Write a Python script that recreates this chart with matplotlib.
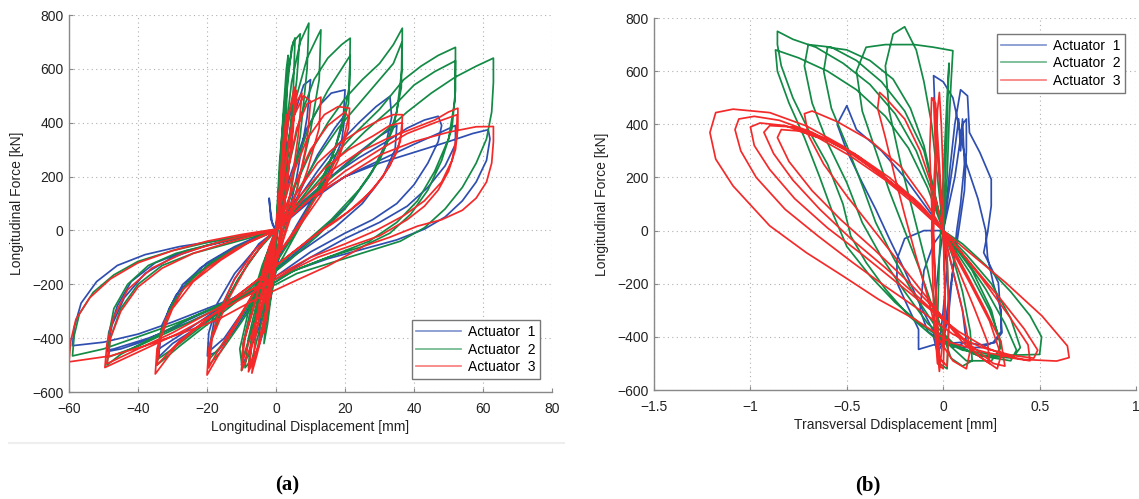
import numpy as np
import matplotlib.pyplot as plt
from matplotlib.lines import Line2D

# ---- data (displacement, force) ----
# (a) longitudinal displacement [mm] vs longitudinal force [kN]
long_act1 = [
    (0, 0), (-1.5, 40), (-2, 120), (-1.8, 90), (-1, 20), (0, 0),
    (1, 120), (2, 260), (3, 380), (2.5, 250), (0.5, 0), (-1, -150), (-2.5, -300), (-3, -350), (-2, -200), (0, -20),
    (1.5, 150), (3.5, 400), (5, 480), (4.5, 320), (2, 50), (-0.5, -180), (-3, -350), (-5, -430), (-4.5, -330), (-2, -120), (0, 0),
    (2, 180), (5, 420), (8, 540), (10, 560), (9, 420), (6, 200), (3, 20), (0, -150), (-4, -330), (-8, -460), (-10, -500),
    (-9.5, -420), (-7, -280), (-3, -100), (0, 10),
    (4, 200), (9, 380), (13, 470), (16, 510), (20, 522), (19.5, 420), (17, 300), (12, 150), (6, 20), (0, -120), (-6, -250),
    (-12, -370), (-17, -450), (-19.9, -466), (-19.5, -380), (-17, -270), (-12, -160), (-6, -70), (0, 0),
    (6, 120), (12, 280), (17, 380), (20, 430), (19, 330), (14, 180), (8, 50), (0, -110), (-8, -270), (-15, -400),
    (-19.5, -450), (-18, -340), (-12, -180), (-5, -50), (0, 0),
    (6, 110), (12, 220), (18, 320), (24, 400), (29, 460), (33, 498), (33.5, 420), (32, 330), (28, 220), (22, 110), (14, 10),
    (6, -80), (0, -150), (-8, -230), (-16, -300), (-24, -370), (-30, -420), (-34, -470), (-33.5, -390), (-31, -290),
    (-27, -200), (-20, -120), (-12, -60), (-5, -20), (0, 0),
    (8, 100), (16, 200), (24, 290), (30, 350), (35, 390), (34.5, 300), (31, 200), (25, 100), (17, 10), (8, -70), (0, -140),
    (-10, -230), (-20, -320), (-28, -390), (-34, -440), (-33, -350), (-29, -240), (-22, -140), (-13, -70), (-5, -25), (0, 0),
    (8, 110), (16, 200), (24, 270), (32, 330), (38, 380), (43, 410), (47, 424), (48, 390), (47, 330), (44, 250), (40, 170),
    (35, 100), (28, 40), (20, -10), (10, -80), (0, -170), (-10, -240), (-20, -300), (-30, -360), (-38, -410), (-45, -440),
    (-49, -450), (-48.5, -380), (-46, -280), (-42, -190), (-35, -120), (-26, -75), (-16, -45), (-6, -15), (0, 0),
    (10, 110), (20, 200), (30, 260), (40, 320), (47, 360), (52, 390), (52, 320), (49, 240), (44, 160), (38, 90), (30, 30),
    (20, -30), (10, -100), (0, -180), (-12, -260), (-25, -340), (-37, -400), (-47, -440), (-49, -445), (-47.5, -350),
    (-44, -250), (-38, -160), (-30, -100), (-20, -55), (-10, -25), (0, 0),
    (10, 120), (20, 200), (30, 250), (40, 290), (50, 330), (57, 360), (61.5, 374), (62, 340), (61, 260), (58, 180),
    (54, 110), (49, 50), (43, 5), (35, -35), (25, -70), (15, -105), (5, -150), (0, -190), (-10, -240), (-20, -290),
    (-30, -340), (-40, -385), (-50, -415), (-59, -428), (-58.5, -360), (-56.5, -270), (-52, -190), (-46, -130),
    (-38, -90), (-28, -60), (-18, -40), (-8, -18), (0, 0),
]

long_act2 = [
    (0, 0), (1, 200), (2, 420), (3, 600), (3.5, 650), (3, 450), (1, 100), (-1, -200), (-2.5, -350), (-3.5, -420),
    (-2.5, -250), (0, 0),
    (1.5, 250), (3, 500), (4.5, 680), (5.5, 715), (5, 520), (3, 200), (0, -150), (-3, -340), (-6, -470), (-8, -500),
    (-7, -380), (-4, -200), (-1, -40), (0, 0),
    (1, 250), (3, 550), (5, 700), (7, 730), (6, 560), (3, 250), (0, -50), (-4, -330), (-7, -480), (-9, -510),
    (-8, -400), (-4, -180), (0, 0),
    (2, 280), (4.5, 550), (7, 700), (9.5, 770), (9, 600), (7, 350), (4, 120), (0, -120), (-4, -300), (-8, -460),
    (-10, -520), (-9.5, -420), (-7, -280), (-3, -100), (0, 0),
    (3, 300), (6, 500), (9, 640), (12, 720), (13, 745), (12.5, 560), (10, 370), (6, 150), (2, 0), (-3, -200), (-7, -370),
    (-10, -490), (-10.5, -440), (-8, -300), (-4, -130), (0, 0),
    (3, 200), (7, 420), (11, 560), (15, 640), (19, 690), (21.5, 714), (21.3, 540), (19, 380), (14, 190), (8, 40),
    (2, -100), (-4, -220), (-10, -340), (-16, -450), (-19.5, -500), (-19, -420), (-16, -300), (-11, -180), (-5, -70), (0, 0),
    (5, 220), (10, 400), (15, 520), (19, 600), (21.5, 650), (21, 470), (17, 300), (11, 120), (4, -40), (-3, -180),
    (-10, -320), (-16, -430), (-19.5, -480), (-18.5, -380), (-14, -250), (-8, -120), (-2, -20), (0, 0),
    (5, 150), (10, 290), (15, 400), (20, 490), (25, 560), (30, 620), (34, 690), (36.6, 751), (36.5, 600), (35, 440),
    (32, 320), (27, 200), (20, 80), (12, -20), (4, -110), (-4, -190), (-12, -270), (-20, -350), (-28, -430),
    (-34.5, -500), (-34, -420), (-31, -300), (-26, -200), (-19, -120), (-11, -60), (-4, -20), (0, 0),
    (6, 140), (12, 270), (18, 380), (24, 470), (30, 560), (34, 620), (36.5, 700), (36.3, 530), (34, 380), (30, 260),
    (24, 150), (16, 40), (8, -50), (0, -140), (-8, -220), (-16, -300), (-24, -380), (-30, -440), (-34.5, -480),
    (-33.5, -380), (-30, -270), (-24, -170), (-16, -100), (-8, -45), (0, 0),
    (8, 130), (15, 250), (22, 350), (30, 450), (37, 560), (42, 610), (47, 650), (52, 680), (52, 520), (51, 380),
    (48, 260), (44, 150), (39, 60), (33, -10), (25, -60), (15, -100), (5, -150), (0, -190), (-10, -250), (-20, -310),
    (-30, -370), (-40, -430), (-48.5, -470), (-48.5, -390), (-47, -290), (-43, -200), (-37, -130), (-29, -85),
    (-20, -55), (-10, -25), (0, 0),
    (10, 150), (18, 270), (26, 370), (34, 460), (40, 540), (46, 590), (52, 630), (51.8, 480), (50, 340), (46, 220),
    (41, 110), (35, 30), (27, -40), (17, -90), (7, -140), (0, -180), (-12, -250), (-24, -320), (-36, -400), (-45, -460),
    (-49, -500), (-48, -400), (-45, -290), (-40, -200), (-33, -130), (-24, -85), (-14, -50), (-4, -15), (0, 0),
    (10, 130), (20, 240), (30, 350), (38, 440), (45, 510), (52, 570), (58, 610), (63, 640), (63, 550), (62.5, 440),
    (61, 340), (58, 250), (54, 160), (49, 80), (43, 10), (36, -40), (26, -80), (16, -120), (6, -160), (0, -200),
    (-10, -250), (-20, -300), (-30, -350), (-40, -395), (-50, -440), (-59, -466), (-58.5, -390), (-57, -310),
    (-53, -230), (-47, -165), (-40, -115), (-30, -75), (-20, -45), (-10, -20), (0, 5),
]

long_act3 = [
    (0, 0), (1, 150), (2, 320), (3, 430), (2.5, 300), (0.5, 50), (-1, -150), (-2.5, -300), (-3.5, -380), (-2.5, -230), (0, 0),
    (1.5, 200), (3.5, 420), (5.3, 532), (5, 380), (2.5, 100), (0, -120), (-3, -330), (-5.5, -460), (-7, -530),
    (-6, -400), (-3, -200), (0, 0),
    (2, 250), (4, 450), (6, 520), (5, 400), (3, 150), (0, -100), (-3, -300), (-6, -470), (-8, -525), (-7, -420),
    (-4, -220), (-1, -40), (0, 0),
    (3, 260), (6, 480), (7.5, 510), (6.5, 360), (4, 130), (1, -60), (-2, -250), (-5, -430), (-8, -510), (-6.5, -380),
    (-3, -160), (0, 0),
    (2, 200), (5, 420), (8, 500), (10, 480), (9, 330), (6, 150), (2, -30), (-2, -200), (-6, -380), (-9, -490),
    (-10, -520), (-9.5, -420), (-6, -260), (-2, -60), (0, 0),
    (3, 200), (6, 380), (9, 470), (13, 495), (12.5, 380), (9, 220), (4, 40), (0, -120), (-4, -270), (-8, -420),
    (-10, -500), (-9, -400), (-5, -220), (0, 0),
    (4, 180), (9, 340), (14, 430), (18, 460), (21.3, 454), (21, 380), (18, 260), (13, 130), (7, 20), (0, -100),
    (-6, -220), (-12, -360), (-17, -470), (-20, -537), (-19.5, -440), (-17, -320), (-12, -180), (-6, -70), (0, 0),
    (5, 160), (10, 300), (15, 390), (20, 440), (21, 420), (19, 310), (14, 170), (8, 50), (1, -80), (-6, -220),
    (-12, -350), (-17, -450), (-19.5, -510), (-18.5, -400), (-14, -260), (-8, -120), (-2, -20), (0, 0),
    (6, 140), (12, 250), (18, 320), (24, 370), (30, 410), (34, 430), (36.6, 430), (36.5, 370), (35, 290), (31, 200),
    (25, 110), (18, 40), (10, -30), (2, -110), (-6, -190), (-14, -270), (-22, -350), (-29, -430), (-35, -533),
    (-34.5, -440), (-32, -330), (-27, -220), (-20, -140), (-12, -70), (-5, -25), (0, 0),
    (7, 130), (14, 230), (21, 300), (28, 350), (33, 390), (36.5, 400), (36, 330), (33, 240), (28, 150), (21, 70),
    (13, 0), (5, -80), (-3, -160), (-12, -250), (-21, -340), (-28, -410), (-34.5, -500), (-33.5, -400), (-30, -290),
    (-24, -190), (-16, -110), (-8, -45), (0, 0),
    (8, 120), (16, 220), (24, 290), (32, 340), (40, 380), (46, 410), (50, 440), (52.7, 454), (52.7, 380), (52, 300),
    (50, 220), (47, 150), (43, 90), (38, 40), (30, -20), (21, -60), (12, -100), (4, -150), (0, -180), (-8, -240),
    (-18, -310), (-28, -380), (-38, -440), (-49.6, -509), (-49, -420), (-47, -320), (-43, -220), (-36, -140),
    (-27, -85), (-17, -45), (-7, -12), (0, 0),
    (10, 120), (20, 220), (30, 300), (38, 360), (46, 400), (52.5, 430), (52.3, 350), (51, 260), (48, 180), (43, 110),
    (37, 55), (29, 0), (20, -50), (10, -100), (0, -170), (-10, -240), (-20, -310), (-30, -380), (-40, -440),
    (-49, -495), (-48, -400), (-45, -300), (-40, -210), (-33, -140), (-24, -85), (-14, -45), (-5, -12), (0, 0),
    (10, 120), (20, 200), (30, 280), (40, 330), (50, 365), (58, 385), (63, 386), (63, 330), (62.5, 250), (61, 180),
    (58, 120), (54, 75), (48, 40), (41, 16), (33, -25), (25.5, -58), (15, -132), (4.4, -194), (-6, -256),
    (-16.7, -330), (-27, -380), (-37.8, -428), (-48, -466), (-60, -488), (-59.5, -410), (-58, -330), (-54, -250),
    (-48, -180), (-40, -120), (-30, -75), (-20, -40), (-10, -15), (0, 5),
]

# (b) transversal displacement [mm] vs longitudinal force [kN]
trans_act1 = [
    (0, 0), (0.02, 100), (0.05, 250), (0.08, 420), (0.09, 300), (0.1, 420), (0.11, 250), (0.09, 100), (0.07, 0),
    (0.05, -150), (0.03, -300), (0.0, -420), (-0.03, -460), (-0.05, -400), (-0.04, -250), (-0.02, -100), (0, 0),
    (0.06, 200), (0.1, 400), (0.12, 420), (0.12, 300), (0.11, 150), (0.08, 0), (0.04, -200), (0.0, -400),
    (-0.02, -430), (0, -300), (0.02, -150), (0, 0),
    (-0.02, 200), (-0.04, 400), (-0.05, 583), (0.0, 560), (0.05, 500), (0.08, 400), (0.12, 250), (0.18, 120),
    (0.22, 0), (0.23, -100), (0.26, -200), (0.3, -300), (0.3, -380), (0.26, -420), (0.2, -440), (0.1, -440),
    (0.0, -420), (-0.08, -380), (-0.12, -300), (-0.1, -150), (-0.05, -50), (0, 0),
    (0.03, 200), (0.06, 400), (0.09, 530), (0.126, 507), (0.136, 369), (0.19, 294), (0.249, 193), (0.249, 93),
    (0.23, -8), (0.21, -83), (0.286, -196), (0.305, -384), (0.267, -422), (0.2, -430), (0.1, -420), (-0.05, -430),
    (-0.128, -447), (-0.128, -372), (-0.185, -284), (-0.24, -196), (-0.24, -108), (-0.2, -30), (-0.1, 0), (0, 0),
    (-0.1, 100), (-0.2, 200), (-0.32, 300), (-0.45, 380), (-0.5, 470), (-0.55, 400), (-0.5, 300), (-0.42, 180),
    (-0.35, 80), (-0.28, -30), (-0.2, -150), (-0.12, -280), (-0.05, -380), (0.05, -440), (0.12, -420), (0.1, -300),
    (0.05, -150), (0, 0),
]

trans_act2 = [
    (0, 0), (0.01, 200), (0.02, 400), (0.03, 630), (0.02, 500), (0.0, 200), (-0.02, -100), (-0.03, -350),
    (-0.02, -500), (0.02, -520), (0.03, -300), (0.02, -100), (0, 0),
    (-0.03, 200), (-0.06, 400), (-0.1, 560), (-0.14, 680), (-0.2, 767), (-0.26, 740), (-0.3, 620), (-0.28, 450),
    (-0.22, 250), (-0.15, 50), (-0.08, -150), (-0.02, -350), (0.04, -480), (0.1, -510), (0.15, -490), (0.14, -380),
    (0.1, -230), (0.05, -100), (0, 0),
    (0.02, 200), (0.03, 400), (0.04, 550), (0.05, 677), (-0.05, 690), (-0.15, 700), (-0.3, 700), (-0.4, 690),
    (-0.45, 600), (-0.42, 450), (-0.35, 300), (-0.28, 150), (-0.2, 0), (-0.12, -150), (-0.05, -300), (0.03, -430),
    (0.12, -490), (0.25, -490), (0.3, -440), (0.25, -300), (0.15, -150), (0.05, -50), (0, 0),
    (-0.05, 160), (-0.1, 320), (-0.17, 460), (-0.26, 570), (-0.38, 640), (-0.5, 680), (-0.6, 690), (-0.62, 600),
    (-0.58, 460), (-0.5, 320), (-0.42, 170), (-0.35, 30), (-0.26, -100), (-0.16, -230), (-0.05, -350), (0.06, -430),
    (0.18, -470), (0.28, -470), (0.3, -420), (0.24, -300), (0.14, -160), (0.05, -60), (0, 0),
    (-0.05, 150), (-0.1, 300), (-0.2, 450), (-0.32, 560), (-0.45, 640), (-0.58, 690), (-0.7, 700), (-0.72, 620),
    (-0.68, 480), (-0.6, 330), (-0.5, 180), (-0.42, 30), (-0.32, -100), (-0.2, -230), (-0.08, -350), (0.05, -430),
    (0.2, -470), (0.36, -480), (0.4, -440), (0.35, -330), (0.25, -200), (0.12, -90), (0, 0),
    (-0.08, 160), (-0.18, 310), (-0.3, 430), (-0.45, 530), (-0.6, 600), (-0.75, 650), (-0.87, 680), (-0.86, 600),
    (-0.8, 480), (-0.72, 350), (-0.64, 200), (-0.57, 60), (-0.5, -60), (-0.38, -170), (-0.25, -270), (-0.12, -350),
    (0.02, -420), (0.18, -470), (0.35, -490), (0.38, -450), (0.32, -350), (0.22, -220), (0.1, -90), (0, 0),
    (-0.06, 150), (-0.14, 300), (-0.25, 440), (-0.38, 550), (-0.52, 630), (-0.66, 690), (-0.78, 720), (-0.86, 750),
    (-0.86, 700), (-0.84, 620), (-0.78, 500), (-0.7, 380), (-0.6, 250), (-0.52, 100), (-0.48, -20), (-0.4, -120),
    (-0.3, -220), (-0.18, -320), (-0.05, -400), (0.1, -450), (0.3, -470), (0.5, -466), (0.51, -400), (0.45, -320),
    (0.35, -230), (0.22, -130), (0.1, -50), (0, 0),
]

trans_act3 = [
    (0, 0), (0.0, 200), (-0.01, 400), (-0.02, 520), (-0.03, 450), (-0.04, 200), (-0.05, 0), (-0.04, -250),
    (-0.03, -450), (-0.02, -530), (0.0, -400), (0.01, -200), (0, 0),
    (-0.02, 250), (-0.04, 480), (-0.06, 500), (-0.07, 300), (-0.06, 100), (-0.04, -200), (-0.02, -480),
    (0.02, -510), (0.03, -350), (0.02, -100), (0, 0),
    (-0.03, 300), (-0.05, 500), (-0.04, 300), (-0.06, 0), (-0.05, -300), (-0.03, -500), (0.0, -520),
    (0.01, -300), (0, 0),
    (-0.05, 150), (-0.12, 300), (-0.2, 420), (-0.3, 500), (-0.33, 520), (-0.34, 460), (-0.3, 350), (-0.25, 200),
    (-0.2, 60), (-0.14, -100), (-0.08, -250), (-0.03, -400), (0.05, -490), (0.12, -520), (0.14, -450), (0.1, -300),
    (0.05, -150), (0, 0),
    (-0.1, 120), (-0.22, 240), (-0.38, 340), (-0.55, 410), (-0.68, 450), (-0.72, 440), (-0.7, 360), (-0.62, 250),
    (-0.5, 130), (-0.38, 20), (-0.25, -100), (-0.12, -220), (0, -330), (0.1, -420), (0.2, -480), (0.24, -500),
    (0.23, -420), (0.16, -290), (0.08, -150), (0, 0),
    (-0.12, 100), (-0.28, 200), (-0.44, 280), (-0.6, 340), (-0.75, 375), (-0.84, 380), (-0.86, 350), (-0.8, 260),
    (-0.68, 150), (-0.53, 40), (-0.36, -70), (-0.2, -180), (-0.05, -290), (0.08, -390), (0.18, -470), (0.28, -520),
    (0.3, -470), (0.24, -340), (0.14, -200), (0.05, -80), (0, 0),
    (-0.15, 110), (-0.3, 200), (-0.46, 290), (-0.62, 350), (-0.78, 390), (-0.9, 395), (-0.93, 370), (-0.88, 290),
    (-0.78, 190), (-0.64, 80), (-0.48, -30), (-0.3, -140), (-0.13, -250), (0.02, -350), (0.14, -430), (0.26, -500),
    (0.32, -510), (0.3, -420), (0.22, -300), (0.12, -160), (0, 0),
    (-0.15, 100), (-0.3, 190), (-0.48, 280), (-0.65, 350), (-0.82, 395), (-0.95, 405), (-1.0, 390), (-0.98, 320),
    (-0.9, 230), (-0.77, 120), (-0.6, 10), (-0.42, -90), (-0.25, -190), (-0.08, -290), (0.08, -380), (0.22, -440),
    (0.36, -480), (0.45, -490), (0.44, -430), (0.34, -320), (0.2, -180), (0.08, -70), (0, 0),
    (-0.15, 110), (-0.32, 210), (-0.5, 300), (-0.68, 370), (-0.85, 415), (-0.98, 430), (-1.06, 420), (-1.08, 380),
    (-1.05, 300), (-0.97, 200), (-0.82, 80), (-0.65, -20), (-0.47, -120), (-0.3, -210), (-0.12, -300), (0.05, -390),
    (0.2, -440), (0.36, -470), (0.47, -480), (0.49, -450), (0.42, -370), (0.3, -260), (0.15, -130), (0, 0),
    (-0.15, 118), (-0.34, 218), (-0.52, 318), (-0.71, 394), (-0.9, 444), (-1.09, 457), (-1.18, 444), (-1.21, 369),
    (-1.18, 269), (-1.09, 168), (-0.9, 18), (-0.71, -83), (-0.52, -171), (-0.335, -259), (-0.147, -334),
    (0.04, -422), (0.23, -460), (0.418, -485), (0.588, -491), (0.653, -478), (0.644, -434), (0.512, -321),
    (0.324, -196), (0.136, -83), (0, 0),
]

labels = ['Actuator  1', 'Actuator  2', 'Actuator  3']
colors = ['#2f4fb0', '#138a45', '#f42a2a']

long_xticks = [-60, -40, -20, 0, 20, 40, 60, 80]
trans_xticks = [-1.5, -1, -0.5, 0, 0.5, 1]
force_ticks = [-600, -400, -200, 0, 200, 400, 600, 800]

plt.rcParams['font.family'] = ['Liberation Sans', 'DejaVu Sans']
plt.rcParams['font.size'] = 10

fig = plt.figure(figsize=(11.39, 4.99), dpi=100)
ax1 = fig.add_axes([0.0606, 0.2144, 0.4241, 0.7555])
ax2 = fig.add_axes([0.5742, 0.2184, 0.4232, 0.7455])


def style(ax, xticks, xlabel):
    ax.set_xticks(xticks)
    ax.set_yticks(force_ticks)
    ax.set_xlim(xticks[0], xticks[-1])
    ax.set_ylim(-600, 800)
    ax.set_xticklabels([('%g' % t).replace('-', '\u2212') for t in xticks])
    ax.grid(True, linestyle=(0, (1, 3)), color='#b0b0b0', linewidth=0.8)
    ax.set_axisbelow(True)
    for s in ['top', 'right']:
        ax.spines[s].set_visible(False)
    for s in ['left', 'bottom']:
        ax.spines[s].set_color('#888888')
        ax.spines[s].set_linewidth(1.0)
    ax.tick_params(direction='in', length=3, color='#888888', labelcolor='#222222')
    ax.tick_params(axis='x', pad=7)
    ax.tick_params(axis='y', pad=4)
    ax.set_xlabel(xlabel, color='#222222', labelpad=3)
    ax.set_ylabel('Longitudinal Force [kN]', color='#222222', labelpad=6)


for ax, series in [(ax1, [long_act1, long_act2, long_act3]),
                   (ax2, [trans_act1, trans_act2, trans_act3])]:
    for pts, c, lab in zip(series, colors, labels):
        xy = np.array(pts)
        ax.plot(xy[:, 0], xy[:, 1], color=c, lw=1.25, label=lab)

style(ax1, long_xticks, 'Longitudinal Displacement [mm]')
style(ax2, trans_xticks, 'Transversal Ddisplacement [mm]')

leg_kw = dict(fancybox=False, framealpha=1, edgecolor='#777777', handlelength=3.2,
              labelspacing=0.25, borderpad=0.35, handletextpad=0.5, fontsize=10)
lg1 = ax1.legend(loc='lower right', bbox_to_anchor=(0.99, 0.016), **leg_kw)
lg2 = ax2.legend(loc='upper right', bbox_to_anchor=(0.992, 0.976), **leg_kw)
for lg in (lg1, lg2):
    for h in lg.get_lines():
        h.set_alpha(0.6)

# faint rule under panel (a)
fig.add_artist(Line2D([0.008, 0.495], [0.112, 0.112], transform=fig.transFigure,
                      color='#eeeeee', lw=1.5))

fig.text(0.252, 0.008, '(a)', ha='center', va='bottom', fontsize=15,
         family='Liberation Serif', weight='bold')
fig.text(0.762, 0.008, '(b)', ha='center', va='bottom', fontsize=15,
         family='Liberation Serif', weight='bold')

fig.savefig('out.png', dpi=100)
